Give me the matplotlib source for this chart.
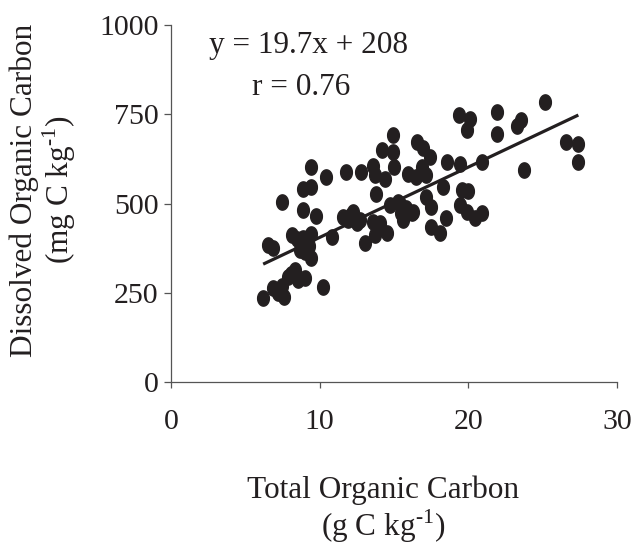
import numpy as np
import matplotlib
matplotlib.use("Agg")
import matplotlib.pyplot as plt
from matplotlib.path import Path

# total organic carbon (g C/kg) vs dissolved organic carbon (mg C/kg)
toc = [6.20, 6.88, 7.21, 7.60, 7.45, 7.88, 8.33, 8.56, 9.00, 8.10, 10.24,
       6.55, 6.85, 7.48, 8.11, 8.45, 8.89, 8.67, 8.89, 9.30, 9.39, 9.00,
       9.45, 9.10, 8.89, 9.72, 8.85, 9.45, 9.39, 10.40, 10.80,
       11.76, 12.77, 11.54, 11.90, 12.25, 12.48, 12.10, 12.70, 13.04, 13.60,
       13.70, 14.05, 14.50, 14.05, 13.78, 13.70, 13.60, 14.38, 14.16, 14.90,
       14.90, 15.00, 14.72, 15.28, 15.39, 15.84, 16.28, 15.50, 15.60, 16.20,
       15.95, 16.50, 16.85, 17.18, 16.55, 16.96, 17.40, 17.18, 17.52, 17.52,
       18.08, 18.30, 18.53, 18.55,
       19.42, 19.35, 20.10, 19.90, 19.42, 19.60, 19.98, 19.90, 20.43, 20.95,
       20.95, 21.95, 21.95, 23.57, 23.30, 23.72, 25.13, 26.55, 27.38, 27.38]
doc = [234, 262, 250, 239, 268, 295, 314, 286, 290, 302, 267,
       384, 376, 505, 412, 400, 402, 370, 380, 380, 415, 365,
       346, 392, 482, 465, 540, 547, 603, 575, 407,
       589, 589, 461, 455, 477, 444, 468, 454, 388, 449,
       412, 430, 416, 444, 527, 580, 605, 568, 650, 645,
       692, 603, 496, 505, 500, 486, 477, 472, 454, 472,
       584, 575, 601, 580, 673, 656, 630, 519, 491, 435,
       416, 547, 458, 617,
       612, 748, 736, 706, 496, 538, 535, 477, 458, 472,
       617, 755, 694, 734, 716, 595, 783, 673, 667, 617]

slope, intercept = 19.7, 208
fit_x = np.array([6.2, 27.4])

xticks = [0, 10, 20, 30]
yticks = [0, 250, 500, 750, 1000]

ink = "#231f20"
plt.rcParams["font.family"] = ["Liberation Serif", "DejaVu Serif"]
plt.rcParams["mathtext.fontset"] = "custom"
plt.rcParams["mathtext.rm"] = "Liberation Serif"

# markers in the scan are a bit taller than wide
t = np.linspace(0, 2 * np.pi, 60)
oval = Path(np.column_stack([0.77 * np.cos(t), np.sin(t)]), closed=True)

fig = plt.figure(figsize=(6.38, 5.48), dpi=100)
ax = fig.add_axes([171 / 638, 1 - 382 / 548, 446 / 638, 357 / 548])

ax.plot(toc, doc, linestyle="none", marker=oval, ms=11, color=ink, clip_on=False)
ax.plot(fit_x, slope * fit_x + intercept, color=ink, lw=2.3, solid_capstyle="butt")

ax.set_xlim(0, 30)
ax.set_ylim(0, 1000)
ax.set_xticks(xticks)
ax.set_yticks(yticks)
for s in ["top", "right"]:
    ax.spines[s].set_visible(False)
for s in ["left", "bottom"]:
    ax.spines[s].set_color("#555555")
    ax.spines[s].set_linewidth(0.9)
ax.tick_params(axis="x", direction="out", length=4.5, width=0.9, color="#555555",
               pad=15, labelsize=21.5, labelcolor=ink)
ax.tick_params(axis="y", direction="out", length=5, width=0.9, color="#555555",
               pad=4, labelsize=21.5, labelcolor=ink)

ax.text(2.57, 921, "y = 19.7x + 208", fontsize=22.5, color=ink, va="baseline")
ax.text(5.42, 804, "r = 0.76", fontsize=22.5, color=ink, va="baseline")

ax.set_xlabel("Total Organic Carbon\n(g C kg$^{\\text{-1}}$)", fontsize=22.5,
              color=ink, linespacing=1.08)
ax.xaxis.set_label_coords(0.475, -0.262)
ax.set_ylabel("Dissolved Organic Carbon\n(mg C kg$^{\\text{-1}}$)", fontsize=22.5,
              color=ink, linespacing=1.05)
ax.yaxis.set_label_coords(-0.209, 0.538)

fig.savefig("out.png", dpi=100)
